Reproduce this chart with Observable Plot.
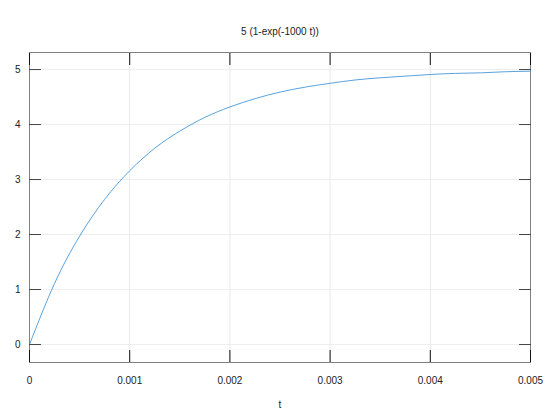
<!DOCTYPE html>
<html>
<head>
<meta charset="utf-8">
<script src="https://cdn.jsdelivr.net/npm/d3@7"></script>
<script src="https://cdn.jsdelivr.net/npm/@observablehq/plot@0.6"></script>
<style>
  html, body { margin: 0; padding: 0; background: #fff; }
  svg { display: block; }
</style>
</head>
<body>
<div id="chart"></div>
<script>
const title = "5 (1-exp(-1000 t))";
const xLabel = "t";
const tValues = [0, 0.00025, 0.0005, 0.00075, 0.001, 0.00125, 0.0015, 0.00175, 0.002, 0.00225, 0.0025,
  0.00275, 0.003, 0.00325, 0.0035, 0.00375, 0.004, 0.00425, 0.0045, 0.00475, 0.005];
const yValues = [0, 1.11, 1.97, 2.64, 3.16, 3.57, 3.88, 4.13, 4.32, 4.47, 4.59,
  4.68, 4.75, 4.81, 4.85, 4.88, 4.91, 4.93, 4.94, 4.96, 4.97];
const xTicks = [0, 0.001, 0.002, 0.003, 0.004, 0.005];
const xTickLabels = ["0", "0.001", "0.002", "0.003", "0.004", "0.005"];
const yTicks = [0, 1, 2, 3, 4, 5];
const yTickLabels = ["0", "1", "2", "3", "4", "5"];

const data = tValues.map((t, i) => ({t, y: yValues[i]}));

const chart = Plot.plot({
  width: 560,
  height: 420,
  marginLeft: 29,
  marginRight: 30,
  marginTop: 52,
  marginBottom: 58,
  style: {fontFamily: "'Liberation Sans', Arial, Helvetica, sans-serif", fontSize: "10px", color: "#222"},
  x: {domain: [0, 0.005]},
  y: {domain: [-0.327, 5.31]},
  marks: [
    Plot.gridX(xTicks, {stroke: "#e8e8e8", strokeOpacity: 1}),
    Plot.gridY(yTicks, {stroke: "#eeeeee", strokeOpacity: 1}),
    Plot.frame({stroke: "#808080"}),
    Plot.line(data, {x: "t", y: "y", stroke: "#2f8ad4", strokeWidth: 0.8, curve: "natural"}),
    // inward ticks on all four sides
    Plot.axisX(xTicks, {anchor: "bottom", tickSize: -12, text: null, label: null, stroke: "#111"}),
    Plot.axisX(xTicks, {anchor: "top", tickSize: -12, text: null, label: null, stroke: "#111"}),
    Plot.axisY(yTicks, {anchor: "left", tickSize: -12, text: null, label: null, stroke: "#444"}),
    Plot.axisY(yTicks, {anchor: "right", tickSize: -12, text: null, label: null, stroke: "#444"}),
    // tick labels
    Plot.axisX(xTicks, {anchor: "bottom", tickSize: 0, tickPadding: 14, tickFormat: (d, i) => xTickLabels[i], label: null, fill: "#222"}),
    Plot.axisY(yTicks, {anchor: "left", tickSize: 0, tickPadding: 9, tickFormat: (d, i) => yTickLabels[i], label: null, fill: "#222"}),
    // title and axis label
    Plot.text([title], {frameAnchor: "top", dy: -25, fontSize: 10, fill: "#222"}),
    Plot.text([xLabel], {frameAnchor: "bottom", dy: 45, fontSize: 10, fill: "#222"})
  ]
});
document.getElementById("chart").appendChild(chart);
</script>
</body>
</html>
